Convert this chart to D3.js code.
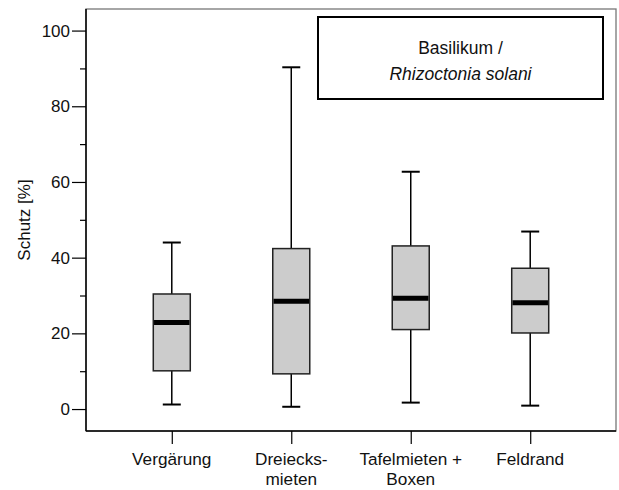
<!DOCTYPE html>
<html><head><meta charset="utf-8">
<script src="https://cdn.jsdelivr.net/npm/d3@7"></script>
<style>
body{margin:0;background:#fff;}
text{font-family:"Liberation Sans",Arial,sans-serif;fill:#111;}
</style></head>
<body><svg id="chart" width="619" height="490"></svg>
<script>
const categories = ["Vergärung", "Dreiecks-\nmieten", "Tafelmieten +\nBoxen", "Feldrand"];
const whiskerLow  = [1.2, 0.6, 1.7, 0.9];
const q1          = [10.1, 9.3, 21.0, 20.1];
const median      = [22.9, 28.5, 29.3, 28.1];
const q3          = [30.4, 42.4, 43.1, 37.2];
const whiskerHigh = [44.0, 90.3, 62.7, 46.9];
const majorTicks = [0, 20, 40, 60, 80, 100];
const minorTicks = [10, 30, 50, 70, 90];
const yLabel = "Schutz [%]";
const legendLines = ["Basilikum /", "Rhizoctonia solani"];

const svg = d3.select("#chart");
const L = 86, R = 616, T = 9, B = 431;

const x = d3.scalePoint().domain(categories).range([L, R]).padding(0.718);
const y = d3.scaleLinear().domain([-5.8, 105.7]).range([B, T]);

// frame
svg.append("rect").attr("x", L).attr("y", T).attr("width", R - L).attr("height", B - T)
  .attr("fill", "none").attr("stroke", "#777").attr("stroke-width", 1.3);

// y axis
const yAxis = d3.axisLeft(y).tickValues(majorTicks).tickSize(14).tickPadding(2).tickSizeOuter(0);
const gy = svg.append("g").attr("transform", `translate(${L},0)`).call(yAxis);
gy.select(".domain").attr("d", `M0,${T}V${B}`).attr("stroke", "#000").attr("stroke-width", 1.5);
gy.selectAll(".tick line").attr("stroke", "#000").attr("stroke-width", 1.2);
gy.selectAll(".tick text").attr("font-size", 17).attr("fill", "#111")
  .style("font-family", '"Liberation Sans",Arial,sans-serif');
const gyMinor = svg.append("g").attr("transform", `translate(${L},0)`)
  .call(d3.axisLeft(y).tickValues(minorTicks).tickSize(6).tickFormat(""));
gyMinor.select(".domain").remove();
gyMinor.selectAll(".tick line").attr("stroke", "#000").attr("stroke-width", 1.2);

// x axis
const xAxis = d3.axisBottom(x).tickSize(13).tickSizeOuter(0).tickFormat("");
const gx = svg.append("g").attr("transform", `translate(0,${B})`).call(xAxis);
gx.select(".domain").attr("d", `M${L},0H${R}`).attr("stroke", "#000").attr("stroke-width", 1.5);
gx.selectAll(".tick line").attr("stroke", "#000").attr("stroke-width", 1.2);
categories.forEach(c => {
  const lines = c.split("\n");
  const t = svg.append("text").attr("x", x(c)).attr("y", 465)
    .attr("text-anchor", "middle").attr("font-size", 17.2);
  lines.forEach((ln, i) => t.append("tspan").attr("x", x(c)).attr("dy", i === 0 ? 0 : 20).text(ln));
});

// y label
svg.append("text").attr("transform", `translate(30,${(T + B) / 2}) rotate(-90)`)
  .attr("text-anchor", "middle").attr("font-size", 17).text(yLabel);

// boxes
const boxW = 37, capW = 18;
const data = categories.map((c, i) => ({c, lo: whiskerLow[i], q1: q1[i], med: median[i], q3: q3[i], hi: whiskerHigh[i]}));
const g = svg.append("g");
const bx = g.selectAll("g.box").data(data).join("g").attr("class", "box");
bx.append("line").attr("x1", d => x(d.c)).attr("x2", d => x(d.c))
  .attr("y1", d => y(d.hi)).attr("y2", d => y(d.q3)).attr("stroke", "#000").attr("stroke-width", 1.5);
bx.append("line").attr("x1", d => x(d.c)).attr("x2", d => x(d.c))
  .attr("y1", d => y(d.q1)).attr("y2", d => y(d.lo)).attr("stroke", "#000").attr("stroke-width", 1.5);
bx.append("line").attr("x1", d => x(d.c) - capW / 2).attr("x2", d => x(d.c) + capW / 2)
  .attr("y1", d => y(d.hi)).attr("y2", d => y(d.hi)).attr("stroke", "#000").attr("stroke-width", 2);
bx.append("line").attr("x1", d => x(d.c) - capW / 2).attr("x2", d => x(d.c) + capW / 2)
  .attr("y1", d => y(d.lo)).attr("y2", d => y(d.lo)).attr("stroke", "#000").attr("stroke-width", 2);
bx.append("rect").attr("x", d => x(d.c) - boxW / 2).attr("width", boxW)
  .attr("y", d => y(d.q3)).attr("height", d => y(d.q1) - y(d.q3))
  .attr("fill", "#cccccc").attr("stroke", "#222").attr("stroke-width", 1.5);
bx.append("line").attr("x1", d => x(d.c) - boxW / 2 + 0.75).attr("x2", d => x(d.c) + boxW / 2 - 0.75)
  .attr("y1", d => y(d.med)).attr("y2", d => y(d.med)).attr("stroke", "#000").attr("stroke-width", 5);

// legend box
svg.append("rect").attr("x", 318).attr("y", 17).attr("width", 285).attr("height", 82)
  .attr("fill", "#fff").attr("stroke", "#000").attr("stroke-width", 2);
svg.append("text").attr("x", 460.5).attr("y", 54).attr("text-anchor", "middle")
  .attr("font-size", 17.5).text(legendLines[0]);
svg.append("text").attr("x", 460.5).attr("y", 80).attr("text-anchor", "middle")
  .attr("font-size", 17.5).attr("font-style", "italic").text(legendLines[1]);
</script></body></html>
